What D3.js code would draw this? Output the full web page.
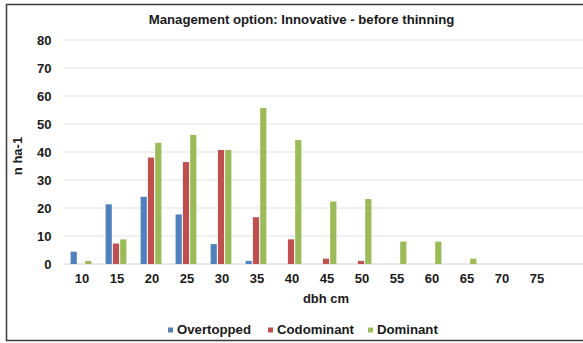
<!DOCTYPE html>
<html>
<head>
<meta charset="utf-8">
<script src="https://cdn.jsdelivr.net/npm/d3@7"></script>
<style>
  html, body { margin: 0; padding: 0; background: #fff; }
  svg { display: block; }
  text { font-family: "Liberation Sans", Arial, sans-serif; font-weight: bold; fill: #1a1a1a; }
</style>
</head>
<body>
<svg id="chart" width="583" height="343"></svg>
<script>
const categories = ["10","15","20","25","30","35","40","45","50","55","60","65","70","75"];
const seriesNames = ["Overtopped","Codominant","Dominant"];
const overtopped = [4.4, 21.3, 24.0, 17.7, 7.1, 1.1, 0, 0, 0, 0, 0, 0, 0, 0];
const codominant = [0, 7.3, 38.0, 36.4, 40.7, 16.7, 8.8, 1.9, 1.1, 0, 0, 0, 0, 0];
const dominant   = [1.1, 8.8, 43.3, 46.1, 40.7, 55.7, 44.3, 22.3, 23.2, 8.0, 8.0, 1.9, 0, 0];
const yTicks = [0, 10, 20, 30, 40, 50, 60, 70, 80];
const colors = ["#4F81BD", "#C0504D", "#9BBB59"];
const title = "Management option: Innovative - before thinning";
const xTitle = "dbh cm";
const yTitle = "n ha-1";

const seriesValues = [overtopped, codominant, dominant];

const svg = d3.select("#chart");
const W = 583, H = 343;

// frame
svg.append("path")
  .attr("d", "M 600 4.5 L 6.5 4.5 L 6.5 340.5 L 600 340.5")
  .attr("fill", "none").attr("stroke", "#3a3a3a").attr("stroke-width", 1.5);

const plotLeft = 63.5, step = 35, plotTop = 40, plotBottom = 264;
const plotRight = 588.5;

const x0 = d3.scaleBand().domain(categories)
  .range([plotLeft, plotLeft + step * categories.length]).paddingInner(0).paddingOuter(0);
const x1 = d3.scaleBand().domain(seriesNames).range([0, 20.8]).paddingInner(0.15);
const groupOffset = (x0.bandwidth() - 20.8) / 2;
const y = d3.scaleLinear().domain([0, 80]).range([plotBottom, plotTop]);

// gridlines
svg.append("g").selectAll("line").data(yTicks).join("line")
  .attr("x1", plotLeft).attr("x2", W)
  .attr("y1", d => y(d)).attr("y2", d => y(d))
  .attr("stroke", d => d === 0 ? "#e2e2e2" : "#ececec").attr("stroke-width", 1.3);

// y axis labels
const yAxis = d3.axisLeft(y).tickValues(yTicks).tickSize(0).tickPadding(0);
const gy = svg.append("g").attr("transform", "translate(51.5,0)").call(yAxis);
gy.select(".domain").remove();
gy.selectAll("text").attr("font-size", 13).attr("font-family", null).attr("fill", "#1a1a1a")
  .attr("dy", "0.36em");

// x axis labels
const xAxis = d3.axisBottom(x0).tickSize(0).tickPadding(0);
const gx = svg.append("g").attr("transform", "translate(1,273.5)").call(xAxis);
gx.select(".domain").remove();
gx.selectAll("text").attr("font-size", 13).attr("font-family", null).attr("fill", "#1a1a1a");

// bars
const groups = svg.append("g").selectAll("g").data(categories).join("g")
  .attr("transform", c => `translate(${x0(c) + groupOffset},0)`);
groups.selectAll("rect")
  .data((c, i) => seriesNames.map((s, j) => ({ s, j, v: seriesValues[j][i] })))
  .join("rect")
  .filter(d => d.v > 0)
  .attr("x", d => x1(d.s))
  .attr("width", x1.bandwidth())
  .attr("y", d => y(d.v))
  .attr("height", d => y(0) - y(d.v))
  .attr("fill", d => colors[d.j]);

// title
svg.append("text").attr("x", 301.5).attr("y", 24).attr("text-anchor", "middle")
  .attr("font-size", 13.2).text(title);

// axis titles
svg.append("text").attr("x", (plotLeft + plotRight) / 2).attr("y", 303).attr("text-anchor", "middle")
  .attr("font-size", 13).text(xTitle);
svg.append("text").attr("transform", "translate(22,156) rotate(-90)").attr("text-anchor", "middle")
  .attr("font-size", 13).text(yTitle);

// legend
const legendX = [168, 268, 368];
const lg = svg.append("g").selectAll("g").data(seriesNames).join("g")
  .attr("transform", (d, i) => `translate(${legendX[i]},333.5)`);
lg.append("rect").attr("x", 0).attr("y", -6).attr("width", 5).attr("height", 5)
  .attr("fill", (d, i) => colors[i]);
lg.append("text").attr("x", 9).attr("y", 0).attr("font-size", 13.2).text(d => d);
</script>
</body>
</html>
